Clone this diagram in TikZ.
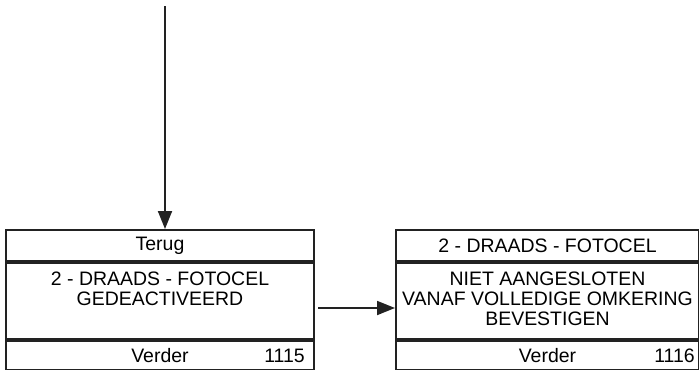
\documentclass[tikz,border=0pt]{standalone}
\usepackage{fontspec}
\setmainfont{Liberation Sans}
\usetikzlibrary{arrows.meta,positioning,calc}
\definecolor{ink}{HTML}{222222}

\begin{document}
\begin{tikzpicture}[x=0.75pt,y=-0.75pt,
    font=\fontsize{14.6}{15}\selectfont,
    panel/.style={draw=ink, line width=1.5pt, inner sep=0pt, anchor=north west},
    flow/.style={draw=ink, line width=1.4pt, -{Triangle[length=13.5pt,width=10.5pt]}}]
\useasboundingbox (0,0) rectangle (699,369);
% left screen
\node[panel, minimum width=231pt, minimum height=23.25pt] (lhead) at (5,229) {Terug};
\node[panel, minimum width=231pt, minimum height=57pt] (lbody) at (lhead.south west) {};
\node[panel, minimum width=231pt, minimum height=21.75pt] (lfoot) at (lbody.south west) {Verder};
\node[anchor=north, align=center, inner sep=0pt] (ltext) at ($(lbody.north)+(0,10)$)
    {2 - DRAADS - FOTOCEL\\GEDEACTIVEERD};
\node[anchor=east, inner sep=0pt] (lnum) at ($(lfoot.east)+(-10,0)$) {1115};
% right screen
\node[panel, minimum width=227.25pt, minimum height=23.25pt] (rhead) at (395,229) {2 - DRAADS - FOTOCEL};
\node[panel, minimum width=227.25pt, minimum height=57pt] (rbody) at (rhead.south west) {};
\node[panel, minimum width=227.25pt, minimum height=21.75pt] (rfoot) at (rbody.south west) {Verder};
\node[anchor=north, align=center, inner sep=0pt] (rtext) at ($(rbody.north)+(0,10)$)
    {NIET AANGESLOTEN\\VANAF VOLLEDIGE OMKERING\\BEVESTIGEN};
\node[anchor=east, inner sep=0pt] (rnum) at ($(rfoot.east)+(-5,0)$) {1116};
% connectors
\coordinate (entry) at (165,6);
\coordinate (next) at (318,308);
\draw[flow] (entry) -- (entry |- lhead.north);
\draw[flow] (next) -- (next -| rbody.west);
\end{tikzpicture}
\end{document}
